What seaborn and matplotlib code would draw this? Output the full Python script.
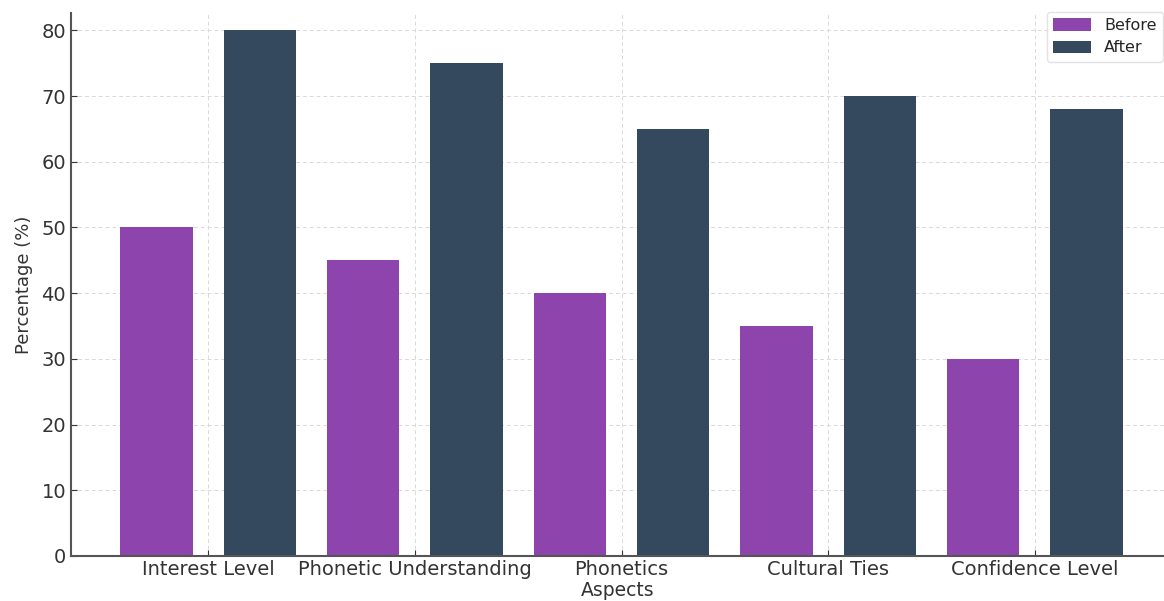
import matplotlib
matplotlib.use("Agg")
import matplotlib.pyplot as plt
import seaborn as sns
import pandas as pd

aspects = ["Interest Level", "Phonetic Understanding", "Phonetics", "Cultural Ties", "Confidence Level"]
before = [50, 45, 40, 35, 30]
after = [80, 75, 65, 70, 68]
y_ticks = [0, 10, 20, 30, 40, 50, 60, 70, 80]

df = pd.DataFrame({
    "Aspect": aspects * 2,
    "Stage": ["Before"] * len(aspects) + ["After"] * len(aspects),
    "Percentage": before + after,
})

sns.set_style("ticks")
plt.rcParams["font.family"] = ["DejaVu Sans"]

fig = plt.figure(figsize=(11.64, 6.01), dpi=100)
ax = fig.add_axes([0.061, 0.0749, 0.939, 0.903])

sns.barplot(
    data=df, x="Aspect", y="Percentage", hue="Stage",
    palette={"Before": "#8e44ad", "After": "#34495e"},
    width=1.0, gap=0.3, ax=ax, errorbar=None, saturation=1.0,
    linewidth=0,
)

ax.set_xlim(-0.664, 4.625)
ax.set_ylim(0, 82.6)
ax.set_yticks(y_ticks)
ax.grid(True, linestyle=(0, (4, 3)), color="#d9d9d9", linewidth=0.7)
ax.set_axisbelow(True)

for side in ("top", "right"):
    ax.spines[side].set_visible(False)
for side in ("left", "bottom"):
    ax.spines[side].set_color("#555555")
    ax.spines[side].set_linewidth(1.5)

ax.tick_params(axis="both", direction="in", length=4, colors="#333333",
               labelsize=14, labelcolor="#333333")
ax.tick_params(axis="x", pad=3)
ax.set_xlabel("Aspects", fontsize=13.5, color="#333333", labelpad=1)
ax.set_ylabel("Percentage (%)", fontsize=13, color="#333333", labelpad=6)

leg = ax.legend(title=None, loc="upper right", fontsize=11.5, frameon=True,
                borderaxespad=0.0, bbox_to_anchor=(0.999, 1.003),
                handlelength=2.4, handleheight=0.8, labelspacing=0.45)
leg.get_frame().set_edgecolor("#dddddd")

fig.savefig("out.png", dpi=100)
